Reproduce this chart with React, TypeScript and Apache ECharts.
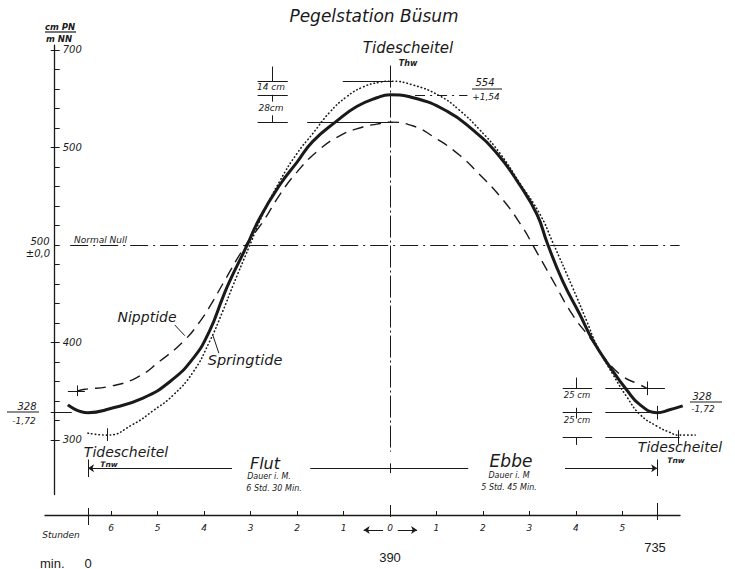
import React, { useEffect, useRef } from "react";
import * as echarts from "echarts";

const TITLE = "Pegelstation Büsum";

// Mittlere Tide (solid curve): time in min after Tnw, level in cm PN
const MEAN_TIME = [-26, 0, 28, 71, 106, 136, 157, 174, 183, 205, 222, 248, 270, 290, 321, 347, 373, 390, 420, 464, 497, 528, 558, 580, 593, 613, 635, 652, 674, 696, 713, 735, 751, 768];
const MEAN_LEVEL = [336, 328, 332, 343, 360, 384, 412, 446, 463, 499, 528, 562, 585, 606, 627, 642, 651, 654, 651, 637, 618, 594, 561, 531, 502, 463, 429, 402, 375, 351, 336, 328, 331, 335];

// Nipptide (dashed)
const NIPP_TIME = [-14, -4, 28, 63, 93, 123, 145, 161, 174, 203, 226, 248, 270, 296, 325, 355, 373, 390, 420, 446, 480, 506, 532, 558, 580, 600, 626, 648, 670, 691, 709, 722];
const NIPP_LEVEL = [350, 352, 355, 364, 381, 401, 422, 442, 460, 499, 524, 552, 575, 596, 612, 621, 624, 626, 622, 611, 592, 572, 550, 522, 492, 464, 428, 405, 381, 365, 358, 353];

// Springtide (dotted)
const SPRING_TIME = [0, 25, 58, 84, 110, 136, 157, 174, 187, 208, 226, 248, 270, 290, 312, 334, 355, 377, 390, 420, 454, 480, 506, 532, 558, 584, 600, 626, 644, 657, 678, 696, 713, 735, 751, 762, 784];
const SPRING_LEVEL = [307, 305, 316, 330, 346, 370, 401, 432, 458, 498, 532, 566, 594, 614, 636, 652, 662, 667, 668, 664, 653, 638, 618, 594, 563, 531, 503, 456, 422, 397, 367, 344, 326, 314, 308, 305, 305];

// key values
const TIDE_TIMES = [0, 390, 735]; // Tnw, Thw, Tnw
const NORMAL_NULL = 500;
const MEAN_LOW = 328;
const MEAN_HIGH = 654;
const SPRING_HIGH = 668;
const NIPP_HIGH = 626;
const NIPP_LOW = 353;
const SPRING_LOW = 303;
const NIPP_LOW_TIMES = [-14, 722];
const SPRING_LOW_TIMES = [25, 762];
const TNW_LINE_LEVEL = 271;

// axis ticks / labels
const Y_TICKS = [300, 320, 340, 360, 380, 400, 420, 440, 460, 480, 500, 520, 540, 560, 580, 600, 620, 640, 660, 680, 700];
const Y_LABEL_VALUES = [300, 400, 600, 700];
const Y_LABEL_TEXTS = ["300", "400", "500", "700"];
const Y_CROSS_TICKS = [300, 328, 400, 600, 700];
const HOUR_TICKS = [30, 90, 150, 210, 270, 330, 450, 510, 570, 630, 690];
const HOUR_LABEL_VALUES = [30, 90, 150, 210, 270, 330, 390, 450, 510, 570, 630, 690];
const HOUR_LABELS = ["6", "5", "4", "3", "2", "1", "0", "1", "2", "3", "4", "5"];
const MIN_LABELS = ["0", "390", "735"];

const INK = "#1a1a1a";
const FONT = '"DejaVu Sans", Verdana, sans-serif';
const PLAIN = '"Liberation Sans", Arial, sans-serif';

function zip(a: number[], b: number[]) {
  return a.map((v, i) => [v, b[i]]);
}

function txt(text: string, x: number, y: number, size: number, o: any = {}) {
  const align = o.align || "center";
  return {
    type: "text",
    x,
    y,
    silent: true,
    z: 50,
    style: {
      text,
      fill: INK,
      fontSize: size,
      fontFamily: o.family || FONT,
      fontStyle: o.italic === false ? "normal" : "italic",
      fontWeight: o.bold ? "bold" : "normal",
      align,
      verticalAlign: "middle",
      textAlign: align,
      textVerticalAlign: "middle",
    },
  };
}

function hl(x1: number, x2: number, y: number, w = 1) {
  return {
    type: "line",
    silent: true,
    z: 50,
    shape: { x1, y1: y, x2, y2: y },
    style: { stroke: INK, lineWidth: w },
  };
}

const SOLID = { color: INK, width: 1, type: "solid" };
const DASHDOT = { color: INK, width: 1.1, type: [18, 5, 2, 5] };
const THW = { color: INK, width: 1, type: [22, 3, 2, 3] };
const LEAD = { color: INK, width: 1, type: [10, 5, 2, 5] };

function seg(x1: number, y1: number, x2: number, y2: number, style: any = SOLID, s1 = "none", s2 = "none") {
  return [
    { coord: [x1, y1], lineStyle: style, symbol: s1 },
    { coord: [x2, y2], symbol: s2 },
  ];
}

export default function App() {
  const ref = useRef<HTMLDivElement>(null);

  useEffect(() => {
    if (!ref.current) return;
    const chart = echarts.init(ref.current, null, { renderer: "svg" });

    const [T0, T1, T2] = TIDE_TIMES;
    const mainMarks = [
      seg(-23, NORMAL_NULL, 764, NORMAL_NULL, DASHDOT),
      seg(T1, 684, T1, 288, THW),
      seg(329, SPRING_HIGH, T1 + 4, SPRING_HIGH),
      seg(283, NIPP_HIGH, T1 + 4, NIPP_HIGH),
      seg(T1 + 4, MEAN_HIGH, 490, MEAN_HIGH, LEAD),
      // left-top bracket 14 cm / 28 cm
      seg(219, SPRING_HIGH, 258, SPRING_HIGH),
      seg(219, MEAN_HIGH, 258, MEAN_HIGH),
      seg(219, NIPP_HIGH, 258, NIPP_HIGH),
      seg(238, SPRING_HIGH, 238, SPRING_HIGH + 15),
      seg(238, MEAN_HIGH, 238, MEAN_HIGH - 7),
      seg(238, NIPP_HIGH + 7, 238, NIPP_HIGH),
      // right-low bracket 25 cm / 25 cm
      seg(613, NIPP_LOW, 651, NIPP_LOW),
      seg(613, MEAN_LOW, 651, MEAN_LOW),
      seg(613, SPRING_LOW, 651, SPRING_LOW),
      seg(668, NIPP_LOW, 745, NIPP_LOW),
      seg(668, MEAN_LOW, 745, MEAN_LOW),
      seg(668, SPRING_LOW, 764, SPRING_LOW),
      seg(631, NIPP_LOW, 631, NIPP_LOW + 11),
      seg(631, MEAN_LOW + 5, 631, MEAN_LOW - 6),
      seg(631, SPRING_LOW, 631, SPRING_LOW - 8),
      seg(NIPP_LOW_TIMES[1], NIPP_LOW - 7, NIPP_LOW_TIMES[1], NIPP_LOW + 7),
      seg(T2, MEAN_LOW - 7, T2, MEAN_LOW + 7),
      seg(SPRING_LOW_TIMES[1], SPRING_LOW - 7, SPRING_LOW_TIMES[1], SPRING_LOW + 7),
      // left lows
      seg(-26, NIPP_LEVEL[0], -4, NIPP_LEVEL[0]),
      seg(NIPP_LOW_TIMES[0], NIPP_LEVEL[0] - 5, NIPP_LOW_TIMES[0], NIPP_LEVEL[0] + 6),
      seg(SPRING_LOW_TIMES[0], SPRING_LEVEL[1] - 6, SPRING_LOW_TIMES[0], SPRING_LEVEL[1] + 7),
      seg(-43, MEAN_LOW, -21, MEAN_LOW),
      // Flut / Ebbe duration lines
      seg(T0, TNW_LINE_LEVEL, 186, TNW_LINE_LEVEL, SOLID, "arrow", "none"),
      seg(T0, TNW_LINE_LEVEL - 9, T0, TNW_LINE_LEVEL + 9),
      seg(287, TNW_LINE_LEVEL, 491, TNW_LINE_LEVEL),
      seg(T1, TNW_LINE_LEVEL - 5, T1, TNW_LINE_LEVEL + 5),
      seg(616, TNW_LINE_LEVEL, T2, TNW_LINE_LEVEL, SOLID, "none", "arrow"),
      seg(T2, TNW_LINE_LEVEL - 8, T2, TNW_LINE_LEVEL + 9),
      // label leaders
      seg(112, 418, 125, 407),
      seg(161, 408, 169, 389),
    ];

    const hourMarks = [
      seg(T0, -1, T0, 0.7),
      seg(T1, -0.2, T1, 1),
      seg(T2, -0.5, T2, 1.2),
      seg(381, -1.5, 356, -1.5, SOLID, "none", "arrow"),
      seg(400, -1.5, 425, -1.5, SOLID, "none", "arrow"),
    ];

    const markBase = {
      silent: true,
      symbol: ["none", "none"],
      symbolSize: 6,
      label: { show: false },
      emphasis: { disabled: true },
      lineStyle: { color: INK, width: 1, type: "solid" },
      animation: false,
    };

    const graphic = [
      txt(TITLE, 374, 16, 17),
      txt("cm PN", 60, 27, 8.5, { bold: true }),
      hl(45, 76, 32, 1.2),
      txt("m NN", 59, 39, 8.5, { bold: true }),
      txt("500", 40, 241, 10),
      txt("±0,0", 38, 253, 10),
      txt("Normal Null", 74, 240, 9, { align: "left" }),
      txt("Tidescheitel", 408, 48, 15),
      txt("Thw", 408, 63, 8, { bold: true }),
      txt("554", 485, 82, 10),
      hl(472, 502, 89, 1),
      txt("+1,54", 486, 97, 9),
      txt("14 cm", 271, 87, 9),
      txt("28cm", 271, 108, 9),
      txt("Nipptide", 147, 317, 14),
      txt("Springtide", 245, 360, 14.5),
      txt("328", 27, 406, 10),
      hl(7, 39, 412, 1),
      txt("-1,72", 24, 421, 9),
      txt("328", 702, 396, 10),
      hl(690, 722, 402, 1),
      txt("-1,72", 703, 409, 9),
      txt("25 cm", 577, 395, 8.5),
      txt("25 cm", 577, 420, 8.5),
      txt("Tidescheitel", 126, 452, 14),
      txt("Tnw", 109, 464, 7.5, { bold: true }),
      txt("Flut", 265, 463, 16),
      txt("Dauer i. M.", 269, 476, 8),
      txt("6 Std. 30 Min.", 274, 488, 8),
      txt("Ebbe", 511, 461, 17),
      txt("Dauer i. M", 509, 475, 8),
      txt("5 Std. 45 Min.", 509, 487, 8),
      txt("Tidescheitel", 680, 447, 14),
      txt("Tnw", 676, 460, 7.5, { bold: true }),
      txt("Stunden", 61, 535, 9),
      txt("min.", 40, 563, 13, { align: "left", italic: false, family: PLAIN }),
      txt(MIN_LABELS[0], 88, 563, 13, { italic: false, family: PLAIN }),
      txt(MIN_LABELS[1], 390, 557, 13, { italic: false, family: PLAIN }),
      txt(MIN_LABELS[2], 655, 547, 13, { italic: false, family: PLAIN }),
    ];

    const option: any = {
      backgroundColor: "#ffffff",
      animation: false,
      grid: [
        { left: 54.7, top: 45.1, width: 668.3, height: 449.5, containLabel: false, outerBoundsMode: "none" },
        { left: 45, top: 495, width: 635, height: 40, containLabel: false, outerBoundsMode: "none" },
      ],
      xAxis: [
        { gridIndex: 0, type: "value", min: -43, max: 820, show: false },
        {
          gridIndex: 1,
          type: "value",
          position: "bottom",
          offset: -20,
          min: -55.5,
          max: 764.5,
          axisLine: { show: true, onZero: false, lineStyle: { color: INK, width: 1.3 } },
          axisTick: { show: true, inside: true, length: 4, customValues: HOUR_TICKS, lineStyle: { color: INK, width: 1 } },
          axisLabel: {
            show: true,
            customValues: HOUR_LABEL_VALUES,
            formatter: (v: number) => {
              const i = HOUR_LABEL_VALUES.indexOf(v);
              return i >= 0 ? HOUR_LABELS[i] : "";
            },
            color: INK,
            fontSize: 9,
            fontStyle: "italic",
            fontFamily: FONT,
            margin: 8,
          },
          splitLine: { show: false },
        },
      ],
      yAxis: [
        {
          gridIndex: 0,
          type: "value",
          position: "left",
          min: 244,
          max: 705,
          axisLine: { show: true, onZero: false, lineStyle: { color: INK, width: 1.3 } },
          axisTick: { show: true, inside: true, length: 5, customValues: Y_TICKS, lineStyle: { color: INK, width: 1 } },
          axisLabel: {
            show: true,
            inside: true,
            customValues: Y_LABEL_VALUES,
            formatter: (v: number) => {
              const i = Y_LABEL_VALUES.indexOf(v);
              return i >= 0 ? Y_LABEL_TEXTS[i] : "";
            },
            color: INK,
            fontSize: 10,
            fontStyle: "italic",
            fontFamily: FONT,
            margin: 8,
          },
          splitLine: { show: false },
        },
        {
          gridIndex: 0,
          type: "value",
          position: "left",
          offset: 0,
          min: 244,
          max: 705,
          axisLine: { show: false, onZero: false },
          axisTick: { show: true, inside: false, length: 4, customValues: Y_CROSS_TICKS, lineStyle: { color: INK, width: 1 } },
          axisLabel: { show: false },
          splitLine: { show: false },
        },
        { gridIndex: 1, type: "value", min: -2, max: 2, show: false },
      ],
      series: [
        {
          name: "Springtide",
          type: "line",
          xAxisIndex: 0,
          yAxisIndex: 0,
          data: zip(SPRING_TIME, SPRING_LEVEL),
          smooth: 0.5,
          symbol: "none",
          clip: false,
          lineStyle: { color: INK, width: 1.6, type: [0.5, 3.2], cap: "round" },
          z: 3,
        },
        {
          name: "Nipptide",
          type: "line",
          xAxisIndex: 0,
          yAxisIndex: 0,
          data: zip(NIPP_TIME, NIPP_LEVEL),
          smooth: 0.5,
          symbol: "none",
          clip: false,
          lineStyle: { color: INK, width: 1.4, type: [11, 7] },
          z: 3,
        },
        {
          name: "Mittlere Tide",
          type: "line",
          xAxisIndex: 0,
          yAxisIndex: 0,
          data: zip(MEAN_TIME, MEAN_LEVEL),
          smooth: 0.5,
          symbol: "none",
          clip: false,
          lineStyle: { color: INK, width: 3 },
          z: 4,
          markLine: { ...markBase, data: mainMarks },
        },
        {
          name: "Stunden",
          type: "line",
          xAxisIndex: 1,
          yAxisIndex: 2,
          data: [
            [T0, 0],
            [T2, 0],
          ],
          symbol: "none",
          clip: false,
          lineStyle: { width: 0, opacity: 0 },
          markLine: { ...markBase, data: hourMarks },
        },
      ],
      graphic,
    };

    chart.setOption(option);
    return () => chart.dispose();
  }, []);

  return (
    <div
      ref={ref}
      style={{ position: "fixed", left: 0, top: 0, width: 735, height: 569, background: "#fff" }}
    />
  );
}
